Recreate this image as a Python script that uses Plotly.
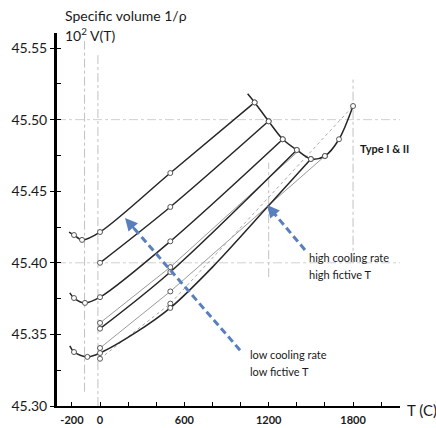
import plotly.graph_objects as go

# ---------------- data ----------------
# glass lines (dark): temperature in C, specific volume 10^2 V(T)
glass1_T = [-220, -185, -128, 0, 500, 1100]
glass1_V = [45.4215, 45.4194, 45.4160, 45.4215, 45.4627, 45.5120]

glass2_T = [0, 500, 1200]
glass2_V = [45.4000, 45.4390, 45.4990]

glass3_T = [-215, -185, -107, 0, 500, 1300]
glass3_V = [45.3790, 45.3754, 45.3720, 45.3760, 45.4150, 45.4863]

glass4_T = [0, 500, 1400]
glass4_V = [45.3540, 45.3936, 45.4788]

glass5_T = [-215, -185, -90, 0, 250, 500, 800, 1200, 1500]
glass5_V = [45.3420, 45.3377, 45.3343, 45.3370, 45.3510, 45.3685, 45.3970, 45.4400, 45.4725]

# thin grey lines
grey1_T = [0, 500, 1400]
grey1_V = [45.3580, 45.3970, 45.4770]

grey2_T = [0, 500, 1600]
grey2_V = [45.3405, 45.3800, 45.4746]

grey3_T = [0, 500, 1800]
grey3_V = [45.3330, 45.3715, 45.5095]

# equilibrium (liquid) curve
equil_T = [1050, 1100, 1200, 1300, 1400, 1500, 1600, 1700, 1800]
equil_V = [45.5180, 45.5120, 45.4988, 45.4863, 45.4788, 45.4725, 45.4746, 45.4863, 45.5095]

# axis ticks
x_tick_vals = [-200, 0, 600, 1200, 1800]
x_tick_text = ["-200", "0", "600", "1200", "1800"]
x_minor_vals = [200, 400, 800, 1000, 1400, 1600, 2000]
y_tick_vals = [45.30, 45.35, 45.40, 45.45, 45.50, 45.55]
y_tick_text = ["45.30", "45.35", "45.40", "45.45", "45.50", "45.55"]

# guide lines (faint dash-dot in the original drawing)
guide_vertical_T = [-110, -15, 1200, 1800]
guide_vertical_span = [(45.31, 45.555), (45.30, 45.545), (45.39, 45.47), (45.40, 45.528)]
guide_horizontal_V = [45.50, 45.40]

# arrows: (tail T, tail V, head T, head V)
arrow_high = (1458, 45.409, 1188, 45.4404)
arrow_low = (996, 45.339, 178, 45.4313)

# ---------------- figure ----------------
DARK = "#262626"
GREY = "#9a9a9a"
BLUE = "#5a7fbd"
FONT = "Lato"

fig = go.Figure()

def add_line(T, V, color, width, marker_idx, dash="solid", shape="spline"):
    fig.add_trace(go.Scatter(x=T, y=V, mode="lines",
                             line=dict(color=color, width=width, dash=dash,
                                       shape=shape, smoothing=0.9),
                             hoverinfo="skip"))
    fig.add_trace(go.Scatter(x=[T[i] for i in marker_idx], y=[V[i] for i in marker_idx],
                             mode="markers",
                             marker=dict(symbol="circle", size=5, color="white",
                                         line=dict(color="#555", width=1)),
                             hoverinfo="skip"))

# guides
for t, (v0, v1) in zip(guide_vertical_T, guide_vertical_span):
    fig.add_shape(type="line", x0=t, x1=t, y0=v0, y1=v1, xref="x", yref="y",
                  line=dict(color="#c2c2c2", width=1, dash="dashdot"), layer="below")
for v in guide_horizontal_V:
    fig.add_shape(type="line", x0=-306, x1=2134, y0=v, y1=v, xref="x", yref="y",
                  line=dict(color="#d0d0d0", width=1, dash="dashdot"), layer="below")

add_line(grey1_T, grey1_V, GREY, 1, [0, 1], shape="linear")
add_line(grey2_T, grey2_V, GREY, 1, [0, 1, 2], shape="linear")
add_line(grey3_T, grey3_V, "#a8a8a8", 1, [0, 1], dash="dot", shape="linear")

add_line(glass1_T, glass1_V, DARK, 1.5, [1, 2, 3, 4, 5])
add_line(glass2_T, glass2_V, DARK, 1.5, [0, 1, 2])
add_line(glass3_T, glass3_V, DARK, 1.5, [1, 2, 3, 4, 5])
add_line(glass4_T, glass4_V, DARK, 1.5, [0, 1, 2])
add_line(glass5_T, glass5_V, DARK, 1.5, [1, 2, 3, 5, 8])
add_line(equil_T, equil_V, DARK, 1.5, [1, 2, 3, 4, 5, 6, 7, 8])

# dashed blue arrows
for (t0, v0, t1, v1) in [arrow_high, arrow_low]:
    fig.add_trace(go.Scatter(x=[t0, t0 + 0.93 * (t1 - t0)], y=[v0, v0 + 0.93 * (v1 - v0)],
                             mode="lines", line=dict(color=BLUE, width=3, dash="7px,4px"),
                             hoverinfo="skip"))
    fig.add_annotation(x=t1, y=v1, ax=t0 + 0.9 * (t1 - t0), ay=v0 + 0.9 * (v1 - v0),
                       xref="x", yref="y", axref="x", ayref="y", text="",
                       showarrow=True, arrowhead=2, arrowsize=1, arrowwidth=2.5,
                       arrowcolor=BLUE)

# texts
txt = dict(family=FONT, size=11, color="#1a1a1a")
fig.add_annotation(x=1472, y=45.4034, text="high cooling rate", xref="x", yref="y",
                   showarrow=False, xanchor="left", yanchor="middle", font=txt)
fig.add_annotation(x=1472, y=45.3915, text="high fictive T", xref="x", yref="y",
                   showarrow=False, xanchor="left", yanchor="middle", font=txt)
fig.add_annotation(x=1053, y=45.3363, text="low cooling rate", xref="x", yref="y",
                   showarrow=False, xanchor="left", yanchor="middle", font=txt)
fig.add_annotation(x=1053, y=45.3244, text="low fictive T", xref="x", yref="y",
                   showarrow=False, xanchor="left", yanchor="middle", font=txt)
fig.add_annotation(x=1835, y=45.480, text="<b>Type I &amp; II</b>", xref="x", yref="y",
                   showarrow=False, xanchor="left", yanchor="middle",
                   font=dict(family=FONT, size=11, color="#1a1a1a"))

fig.add_annotation(x=0.0175, y=1.048, xref="paper", yref="paper", text="Specific volume 1/ρ",
                   showarrow=False, xanchor="left", yanchor="middle",
                   font=dict(family=FONT, size=14, color="#1a1a1a"))
fig.add_annotation(x=0.0175, y=0.996, xref="paper", yref="paper", text="10<sup>2</sup> V(T)",
                   showarrow=False, xanchor="left", yanchor="middle",
                   font=dict(family=FONT, size=14, color="#1a1a1a"))
fig.add_annotation(x=1.015, y=-0.012, xref="paper", yref="paper", text="T (C)",
                   showarrow=False, xanchor="left", yanchor="middle",
                   font=dict(family=FONT, size=15, color="#1a1a1a"))

fig.update_layout(
    width=436, height=428,
    margin=dict(l=57, r=36, t=33, b=22, pad=0, autoexpand=False),
    paper_bgcolor="white", plot_bgcolor="white",
    showlegend=False,
    xaxis=dict(range=[-306, 2134], showgrid=False, zeroline=False, automargin=False,
               showline=True, linecolor="black", linewidth=2,
               tickvals=x_tick_vals, ticktext=["<b>%s</b>" % s for s in x_tick_text],
               ticks="inside", ticklen=4, tickcolor="black", tickwidth=1,
               ticklabelstandoff=3,
               tickfont=dict(family=FONT, size=11, color="#1a1a1a"),
               minor=dict(tickvals=x_minor_vals, ticks="inside", ticklen=4,
                          tickcolor="black", tickwidth=1)),
    yaxis=dict(range=[45.30, 45.5605], showgrid=False, zeroline=False, automargin=False,
               showline=True, linecolor="black", linewidth=3,
               tickvals=y_tick_vals, ticktext=y_tick_text,
               ticks="outside", ticklen=4, tickcolor="black", tickwidth=1,
               tickfont=dict(family=FONT, size=14, color="#1a1a1a"),
               minor=dict(dtick=0.025, tick0=45.30, ticks="inside", ticklen=4,
                          tickcolor="black", tickwidth=1)),
)

fig.write_html("out.html")
